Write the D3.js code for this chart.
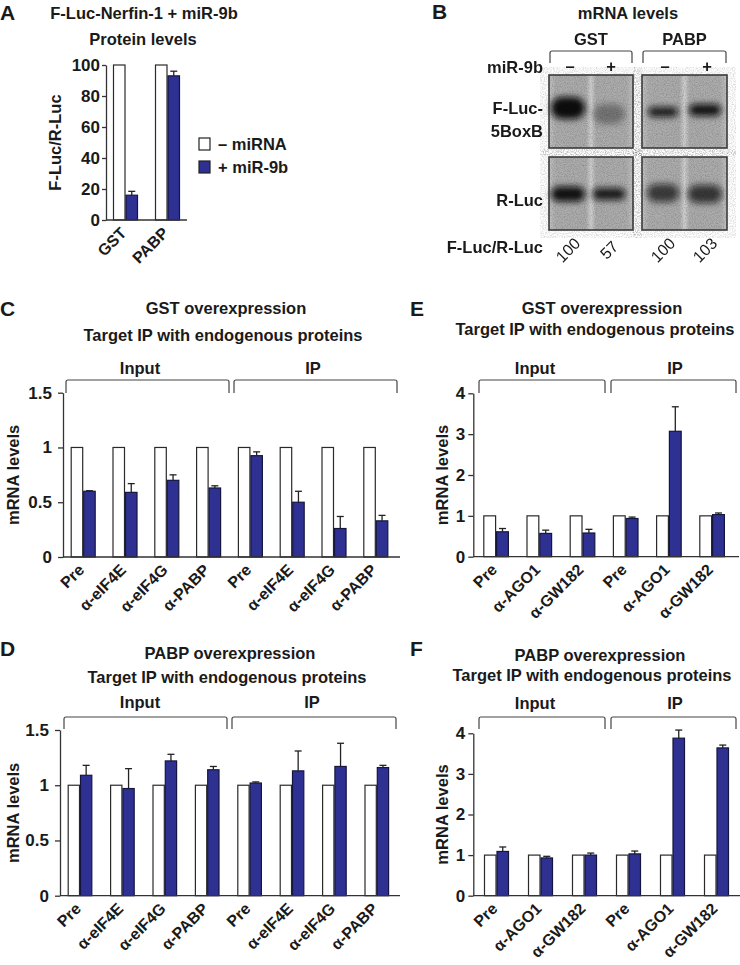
<!DOCTYPE html>
<html><head><meta charset="utf-8">
<script src="https://cdn.jsdelivr.net/npm/d3@7"></script>
<style>
body{margin:0;background:#fff;}
svg{display:block;font-family:"Liberation Sans",Arial,Helvetica,sans-serif;font-weight:bold;}
</style></head><body>
<svg id="fig" width="740" height="965"></svg>
<script>
// ---------- DATA ----------
// Panel A: protein levels (F-Luc/R-Luc)
const aCategories = ["GST", "PABP"];
const aControl = [100, 100];
const aMiR = [16, 93];
const aMiRErr = [2.5, 3];
const aTicks = [0, 20, 40, 60, 80, 100];
const legendLabels = ["– miRNA", "+ miR-9b"];

// Panel B: northern blot
const bGroups = ["GST", "PABP"];
const bLanes = ["–", "+", "–", "+"];
const bRatio = ["100", "57", "100", "103"];
const bFLucIntensity = [1.0, 0.32, 0.9, 0.95];
const bFLucThickness = [22, 20, 10, 12];
const bRLucIntensity = [0.97, 0.9, 0.72, 0.75];
const bRLucThickness = [15, 12, 18, 18];

// Panels C / D: eIF4E, eIF4G, PABP IPs
const cdCategories = ["Pre", "α-eIF4E", "α-eIF4G", "α-PABP", "Pre", "α-eIF4E", "α-eIF4G", "α-PABP"];
const cdControl = [1, 1, 1, 1, 1, 1, 1, 1];
const cMiR = [0.60, 0.59, 0.70, 0.63, 0.925, 0.50, 0.26, 0.33];
const cErr = [0.005, 0.08, 0.05, 0.02, 0.035, 0.10, 0.11, 0.05];
const dMiR = [1.09, 0.97, 1.22, 1.14, 1.02, 1.13, 1.17, 1.16];
const dErr = [0.09, 0.18, 0.06, 0.03, 0.01, 0.18, 0.21, 0.02];
const cdTicks = [0, 0.5, 1, 1.5];

// Panels E / F: AGO1, GW182 IPs
const efCategories = ["Pre", "α-AGO1", "α-GW182", "Pre", "α-AGO1", "α-GW182"];
const efControl = [1, 1, 1, 1, 1, 1];
const eMiR = [0.61, 0.57, 0.58, 0.935, 3.07, 1.03];
const eErr = [0.08, 0.08, 0.09, 0.035, 0.60, 0.04];
const fMiR = [1.09, 0.93, 1.0, 1.03, 3.88, 3.64];
const fErr = [0.11, 0.04, 0.05, 0.07, 0.20, 0.07];
const efTicks = [0, 1, 2, 3, 4];

// ---------- DRAWING ----------
const BLUE = "#2e3192";
const INK = "#1a1a1a";
const svg = d3.select("#fig");

function txt(x, y, s, size, opts = {}) {
  return svg.append("text").attr("x", x).attr("y", y).attr("dy", "0.35em")
    .attr("text-anchor", opts.anchor || "middle")
    .attr("font-size", size)
    .attr("font-weight", opts.weight || "bold")
    .attr("fill", INK).text(s);
}

function panelLetter(x, y, s) {
  svg.append("text").attr("x", x).attr("y", y).attr("font-size", 21).attr("fill", INK).text(s);
}

function barPanel(o) {
  const g = svg.append("g");
  const y = d3.scaleLinear().domain([0, o.yMax]).range([o.y0, o.yTop]);
  const x = d3.scaleBand().domain(d3.range(o.cats.length)).range(o.xr)
    .paddingInner(o.pin).paddingOuter(0);
  const sub = d3.scaleBand().domain(["ctrl", "mir"]).range([0, x.bandwidth()]);
  const rows = o.cats.map((c, i) => ({ i, c, ctrl: o.ctrl[i], mir: o.mir[i], err: o.err[i] }));

  // control bars (white)
  g.selectAll("rect.ctrl").data(rows).join("rect").attr("class", "ctrl")
    .attr("x", d => x(d.i) + sub("ctrl") + 0.5)
    .attr("y", d => y(d.ctrl))
    .attr("width", sub.bandwidth() - 1)
    .attr("height", d => y(0) - y(d.ctrl))
    .attr("fill", "#fff").attr("stroke", "#2a2a2a").attr("stroke-width", 1.2);
  // miRNA bars (blue)
  g.selectAll("rect.mir").data(rows).join("rect").attr("class", "mir")
    .attr("x", d => x(d.i) + sub("mir") + 0.5)
    .attr("y", d => y(d.mir))
    .attr("width", sub.bandwidth() - 1)
    .attr("height", d => y(0) - y(d.mir))
    .attr("fill", BLUE).attr("stroke", "#15163d").attr("stroke-width", 1.2);
  // error bars
  const ex = d => x(d.i) + sub("mir") + sub.bandwidth() / 2;
  g.selectAll("line.ev").data(rows).join("line").attr("class", "ev")
    .attr("x1", ex).attr("x2", ex)
    .attr("y1", d => y(d.mir)).attr("y2", d => y(d.mir + d.err))
    .attr("stroke", "#222").attr("stroke-width", 1.3);
  g.selectAll("line.ec").data(rows).join("line").attr("class", "ec")
    .attr("x1", d => ex(d) - 3.5).attr("x2", d => ex(d) + 3.5)
    .attr("y1", d => y(d.mir + d.err)).attr("y2", d => y(d.mir + d.err))
    .attr("stroke", "#222").attr("stroke-width", 1.3);

  // y axis
  const ax = g.append("g").attr("transform", `translate(${o.ax},0)`)
    .call(d3.axisLeft(y).tickValues(o.ticks).tickSize(o.tickSize || 5).tickSizeOuter(0)
      .tickPadding(o.tickPad || 3).tickFormat(d => String(d)));
  ax.select(".domain").attr("stroke", "#333").attr("stroke-width", 1.3);
  ax.selectAll(".tick line").attr("stroke", "#333").attr("stroke-width", 1.3);
  ax.selectAll(".tick text").attr("font-size", 17).attr("font-weight", "bold")
    .attr("fill", INK).attr("font-family", "Liberation Sans, Arial, sans-serif");
  // x axis line
  g.append("line").attr("x1", o.ax).attr("x2", o.xEnd).attr("y1", y(0)).attr("y2", y(0))
    .attr("stroke", "#333").attr("stroke-width", 1.3);
  // x labels
  g.selectAll("text.xl").data(rows).join("text").attr("class", "xl")
    .attr("transform", d => `translate(${x(d.i) + x.bandwidth() / 2 + 2},${y(0) + 14}) rotate(-45)`)
    .attr("text-anchor", "end").attr("font-size", 16).attr("fill", INK).text(d => d.c);
  // y label
  g.append("text").attr("transform", `translate(${o.ylx},${(o.y0 + o.yTop) / 2}) rotate(-90)`)
    .attr("text-anchor", "middle").attr("dy", "0.35em").attr("font-size", 16.5).attr("fill", INK)
    .text(o.ylabel);
  // brackets
  (o.brackets || []).forEach(b => {
    g.append("path")
      .attr("d", `M${b.x0},${b.y1} V${b.y0 + 2} Q${b.x0},${b.y0} ${b.x0 + 2},${b.y0} H${b.x1 - 2} Q${b.x1},${b.y0} ${b.x1},${b.y0 + 2} V${b.y1}`)
      .attr("fill", "none").attr("stroke", "#444").attr("stroke-width", 1.2);
    txt(b.lx, b.ly, b.label, 16.5);
  });
  return { x, y };
}

// ---- Panel A ----
panelLetter(0, 20, "A");
txt(144, 13, "F-Luc-Nerfin-1 + miR-9b", 16.5);
txt(143, 39, "Protein levels", 16.5);
barPanel({
  cats: aCategories, ctrl: aControl, mir: aMiR, err: aMiRErr, ticks: aTicks,
  yMax: 100, y0: 220, yTop: 65, xr: [113, 180], pin: 1 - 25 / 42,
  ax: 106, xEnd: 187, ylx: 55, ylabel: "F-Luc/R-Luc", tickSize: 4, tickPad: 2
});
// legend
const legFill = ["#fff", BLUE];
legendLabels.forEach((l, i) => {
  svg.append("rect").attr("x", 199).attr("y", 138 + i * 23).attr("width", 11).attr("height", 12)
    .attr("fill", legFill[i]).attr("stroke", "#222").attr("stroke-width", 1.2);
  txt(218, 144 + i * 23, l, 16.5, { anchor: "start" });
});

// ---- Panel B ----
panelLetter(432, 19, "B");
txt(628, 13, "mRNA levels", 16.5);
const defs = svg.append("defs");
const grad = defs.append("linearGradient").attr("id", "gelbg");
[[0, "#c2c2c2"], [0.08, "#adadad"], [0.44, "#acacac"], [0.5, "#d0d0d0"], [0.56, "#acacac"], [0.92, "#adadad"], [1, "#c2c2c2"]]
  .forEach(s => grad.append("stop").attr("offset", s[0]).attr("stop-color", s[1]));
defs.append("filter").attr("id", "blur").attr("x", "-50%").attr("y", "-80%").attr("width", "200%").attr("height", "260%")
  .append("feGaussianBlur").attr("stdDeviation", 3.2);
const nf = defs.append("filter").attr("id", "grain");
nf.append("feTurbulence").attr("type", "fractalNoise").attr("baseFrequency", 0.9).attr("numOctaves", 2).attr("seed", 3);
nf.append("feColorMatrix").attr("type", "matrix")
  .attr("values", "0 0 0 0 0  0 0 0 0 0  0 0 0 0 0  0 0 0 1.2 -0.45");

const laneX = [568, 609, 663, 705];
const boxes = [[549, 633], [642, 727]];
const rows = [[75, 148], [157, 230]];
boxes.forEach(bx => rows.forEach(r => {
  svg.append("rect").attr("x", bx[0]).attr("y", r[0]).attr("width", bx[1] - bx[0]).attr("height", r[1] - r[0])
    .attr("fill", "url(#gelbg)");
}));
const bandG = svg.append("g").attr("filter", "url(#blur)");
const bandRows = [
  { cy: [108, 114, 112, 110], inten: bFLucIntensity, th: bFLucThickness, w: [34, 32, 30, 32] },
  { cy: [194, 194, 193, 194], inten: bRLucIntensity, th: bRLucThickness, w: [34, 33, 32, 34] }
];
bandRows.forEach(br => {
  br.inten.forEach((v, i) => {
    bandG.append("rect").attr("x", laneX[i] - br.w[i] / 2).attr("y", br.cy[i] - br.th[i] / 2)
      .attr("width", br.w[i]).attr("height", br.th[i]).attr("rx", br.th[i] / 2)
      .attr("fill", "#0a0a0a").attr("opacity", v);
  });
});
boxes.forEach(bx => rows.forEach(r => {
  svg.append("rect").attr("x", bx[0]).attr("y", r[0]).attr("width", bx[1] - bx[0]).attr("height", r[1] - r[0])
    .attr("filter", "url(#grain)").attr("opacity", 0.3);
  svg.append("rect").attr("x", bx[0]).attr("y", r[0]).attr("width", bx[1] - bx[0]).attr("height", r[1] - r[0])
    .attr("fill", "none").attr("stroke", "#3a3a3a").attr("stroke-width", 1.6);
}));
// group brackets & labels
bGroups.forEach((gname, gi) => {
  const x0 = boxes[gi][0] + 1, x1 = boxes[gi][1] - 1;
  txt((x0 + x1) / 2, 39, gname, 16.5);
  svg.append("path").attr("d", `M${x0},63 V53 Q${x0},51 ${x0 + 2},51 H${x1 - 2} Q${x1},51 ${x1},53 V63`)
    .attr("fill", "none").attr("stroke", "#444").attr("stroke-width", 1.2);
});
txt(543, 67, "miR-9b", 16.5, { anchor: "end" });
bLanes.forEach((s, i) => txt(laneX[i] + 2, 66, s, 16.5));
txt(543, 108, "F-Luc-", 16.5, { anchor: "end" });
txt(543, 131, "5BoxB", 16.5, { anchor: "end" });
txt(543, 200, "R-Luc", 16.5, { anchor: "end" });
txt(543, 247, "F-Luc/R-Luc", 16.5, { anchor: "end" });
bRatio.forEach((s, i) => {
  svg.append("text").attr("transform", `translate(${laneX[i]},${250}) rotate(-45)`)
    .attr("text-anchor", "middle").attr("dy", "0.35em").attr("font-size", 16).attr("font-weight", "normal")
    .attr("fill", INK).text(s);
});

// ---- Panel C ----
panelLetter(0, 316, "C");
txt(226, 308, "GST overexpression", 16.5);
txt(223, 335, "Target IP with endogenous proteins", 16.5);
barPanel({
  cats: cdCategories, ctrl: cdControl, mir: cMiR, err: cErr, ticks: cdTicks,
  yMax: 1.5, y0: 557, yTop: 392.7, xr: [70.7, 70.7 + 7 * 41.8 + 25], pin: 1 - 25 / 41.8,
  ax: 63, xEnd: 400, ylx: 13, ylabel: "mRNA levels", tickPad: 6,
  brackets: [
    { x0: 66, x1: 229, y0: 380, y1: 393, label: "Input", lx: 140, ly: 368 },
    { x0: 234, x1: 397, y0: 380, y1: 393, label: "IP", lx: 313, ly: 368 }
  ]
});

// ---- Panel E ----
panelLetter(410, 316, "E");
txt(602, 308, "GST overexpression", 16.5);
txt(595, 329, "Target IP with endogenous proteins", 16.5);
barPanel({
  cats: efCategories, ctrl: efControl, mir: eMiR, err: eErr, ticks: efTicks,
  yMax: 4, y0: 556.7, yTop: 393.3, xr: [483.3, 483.3 + 5 * 43.2 + 25.6], pin: 1 - 25.6 / 43.2,
  ax: 473.3, xEnd: 739, ylx: 442, ylabel: "mRNA levels",
  brackets: [
    { x0: 479, x1: 605, y0: 380, y1: 393, label: "Input", lx: 535, ly: 368 },
    { x0: 611, x1: 736, y0: 380, y1: 393, label: "IP", lx: 675, ly: 368 }
  ]
});

// ---- Panel D ----
panelLetter(0, 656, "D");
txt(230, 653, "PABP overexpression", 16.5);
txt(227, 677, "Target IP with endogenous proteins", 16.5);
barPanel({
  cats: cdCategories, ctrl: cdControl, mir: dMiR, err: dErr, ticks: cdTicks,
  yMax: 1.5, y0: 895.7, yTop: 730, xr: [67.7, 67.7 + 7 * 42.4 + 24.6], pin: 1 - 24.6 / 42.4,
  ax: 60, xEnd: 400, ylx: 13, ylabel: "mRNA levels", tickPad: 6,
  brackets: [
    { x0: 64, x1: 227, y0: 717, y1: 729, label: "Input", lx: 140, ly: 702 },
    { x0: 232, x1: 396, y0: 717, y1: 729, label: "IP", lx: 312, ly: 702 }
  ]
});

// ---- Panel F ----
panelLetter(410, 656, "F");
txt(600, 655, "PABP overexpression", 16.5);
txt(592, 675, "Target IP with endogenous proteins", 16.5);
barPanel({
  cats: efCategories, ctrl: efControl, mir: fMiR, err: fErr, ticks: efTicks,
  yMax: 4, y0: 895.7, yTop: 733.3, xr: [484, 484 + 5 * 44 + 25], pin: 1 - 25 / 44,
  ax: 473.3, xEnd: 740, ylx: 442, ylabel: "mRNA levels",
  brackets: [
    { x0: 479, x1: 605, y0: 717, y1: 729, label: "Input", lx: 535, ly: 703 },
    { x0: 611, x1: 736, y0: 717, y1: 729, label: "IP", lx: 675, ly: 703 }
  ]
});
</script>
</body></html>
